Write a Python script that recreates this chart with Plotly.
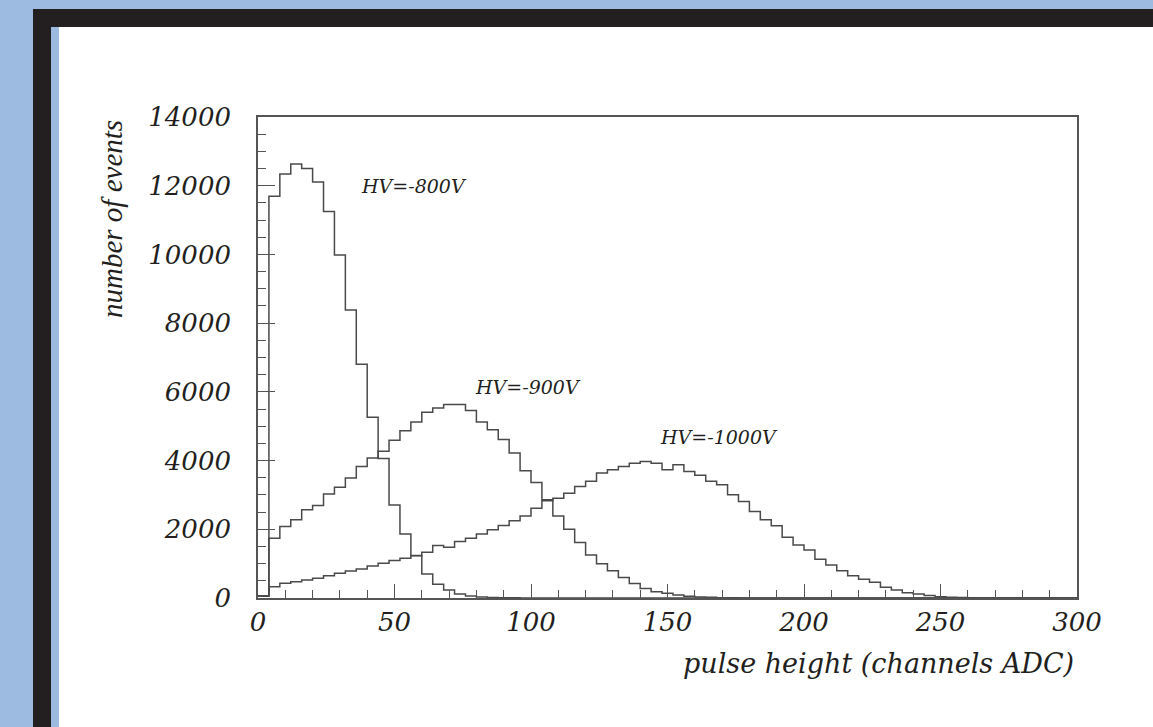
import plotly.graph_objects as go

# ---------------- data ----------------
bin_width = 4
bin_lo = list(range(0, 300, bin_width))          # 75 bins, 0..300 ADC channels

hv800 = [60, 11690, 12340, 12630, 12500, 12110, 11250, 9980, 8380, 6800,
         5260, 4060, 2710, 1865, 1230, 700, 400, 230, 120, 60,
         30, 15, 8, 4, 2] + [0] * 50

hv900 = [60, 1740, 2080, 2275, 2565, 2695, 3025, 3225, 3490, 3830,
         4075, 4270, 4590, 4870, 5125, 5405, 5530, 5630, 5630, 5460,
         5125, 4900, 4610, 4220, 3705, 3365, 2860, 2390, 2000, 1615,
         1255, 1000, 790, 600, 420, 280, 185, 135, 87, 50,
         30, 20, 10, 5, 2] + [0] * 30

hv1000 = [60, 330, 430, 475, 525, 575, 650, 720, 785, 845,
          935, 1010, 1090, 1155, 1235, 1330, 1525, 1480, 1645, 1740,
          1865, 1985, 2110, 2245, 2390, 2615, 2830, 2905, 3050, 3245,
          3395, 3635, 3735, 3830, 3925, 3975, 3925, 3735, 3880, 3685,
          3570, 3395, 3295, 3005, 2810, 2520, 2275, 2100, 1770, 1545,
          1400, 1130, 960, 795, 650, 545, 455, 310, 235, 155,
          115, 70, 40, 20, 12, 6, 3, 1] + [0] * 7

series_names = ["HV=-800V", "HV=-900V", "HV=-1000V"]
label_pos_x = [57, 99, 169]
label_pos_y = [12000, 6140, 4680]

x_ticks = [0, 50, 100, 150, 200, 250, 300]
x_tick_text = ["0", "50", "100", "150", "200", "250", "300"]
y_ticks = [0, 2000, 4000, 6000, 8000, 10000, 12000, 14000]
y_tick_text = ["0", "2000", "4000", "6000", "8000", "10000", "12000", "14000"]

# ---------------- figure ----------------
W, H = 1153, 727
L, R, T, B = 258, 1077, 117, 598        # plot area in pixels


def px(xp):
    return (xp - L) / (R - L)


def py(yp):
    return (B - yp) / (B - T)


edges = bin_lo + [bin_lo[-1] + bin_width]
line_col = "#4a4a4a"
fig = go.Figure()
for vals in (hv800, hv900, hv1000):
    fig.add_trace(go.Scatter(
        x=edges, y=vals + [vals[-1]], mode="lines", line_shape="hv",
        line=dict(color=line_col, width=1.5), hoverinfo="skip"))

serif_wide = "DejaVu Serif"
txt_col = "#231f20"

for name, xv, yv in zip(series_names, label_pos_x, label_pos_y):
    fig.add_annotation(x=xv, y=yv, text=name, showarrow=False,
                       xanchor="center", yanchor="middle",
                       font=dict(family=serif_wide, size=19, style="italic", color=txt_col))

fig.add_annotation(xref="paper", yref="paper", x=px(1076), y=py(663),
                   text="pulse height (channels ADC)", showarrow=False,
                   xanchor="right", yanchor="middle",
                   font=dict(family=serif_wide, size=27, style="italic", color=txt_col))
fig.add_annotation(xref="paper", yref="paper", x=px(112), y=py(219),
                   text="number of events", showarrow=False, textangle=-90,
                   xanchor="center", yanchor="middle",
                   font=dict(family="Liberation Serif", size=29, style="italic", color=txt_col))

# page decoration: blue page, black frame, thin blue strip, white sheet
shapes = [
    dict(type="rect", xref="paper", yref="paper", x0=px(33), x1=px(1200),
         y0=py(9), y1=py(800), fillcolor="#231f20", line=dict(width=0), layer="below"),
    dict(type="rect", xref="paper", yref="paper", x0=px(51), x1=px(59),
         y0=py(27), y1=py(800), fillcolor="#9dbbe1", line=dict(width=0), layer="below"),
    dict(type="rect", xref="paper", yref="paper", x0=px(59), x1=px(1200),
         y0=py(27), y1=py(800), fillcolor="#ffffff", line=dict(width=0), layer="below"),
]

axis_common = dict(showgrid=False, zeroline=False, showline=True, mirror=True,
                   linecolor="#555555", linewidth=1.6, ticks="inside",
                   tickcolor="#555555", tickwidth=1.4,
                   tickfont=dict(family=serif_wide, size=26, style="italic", color=txt_col))

fig.update_layout(
    width=W, height=H, autosize=False,
    margin=dict(l=L, r=W - R, t=T, b=H - B, pad=0),
    paper_bgcolor="#9dbbe1", plot_bgcolor="#ffffff",
    showlegend=False, shapes=shapes,
    xaxis=dict(range=[0, 300], tickmode="array", tickvals=x_ticks, ticktext=x_tick_text,
               ticklen=14, ticklabelstandoff=0,
               minor=dict(dtick=10, tick0=0, ticklen=8, ticks="inside",
                          tickcolor="#555555", tickwidth=1.2),
               **axis_common),
    yaxis=dict(range=[0, 14000], tickmode="array", tickvals=y_ticks, ticktext=y_tick_text,
               ticklen=17, ticklabelstandoff=20,
               minor=dict(dtick=500, tick0=0, ticklen=8, ticks="inside",
                          tickcolor="#555555", tickwidth=1.2),
               **axis_common),
)

fig.write_html("out.html")
